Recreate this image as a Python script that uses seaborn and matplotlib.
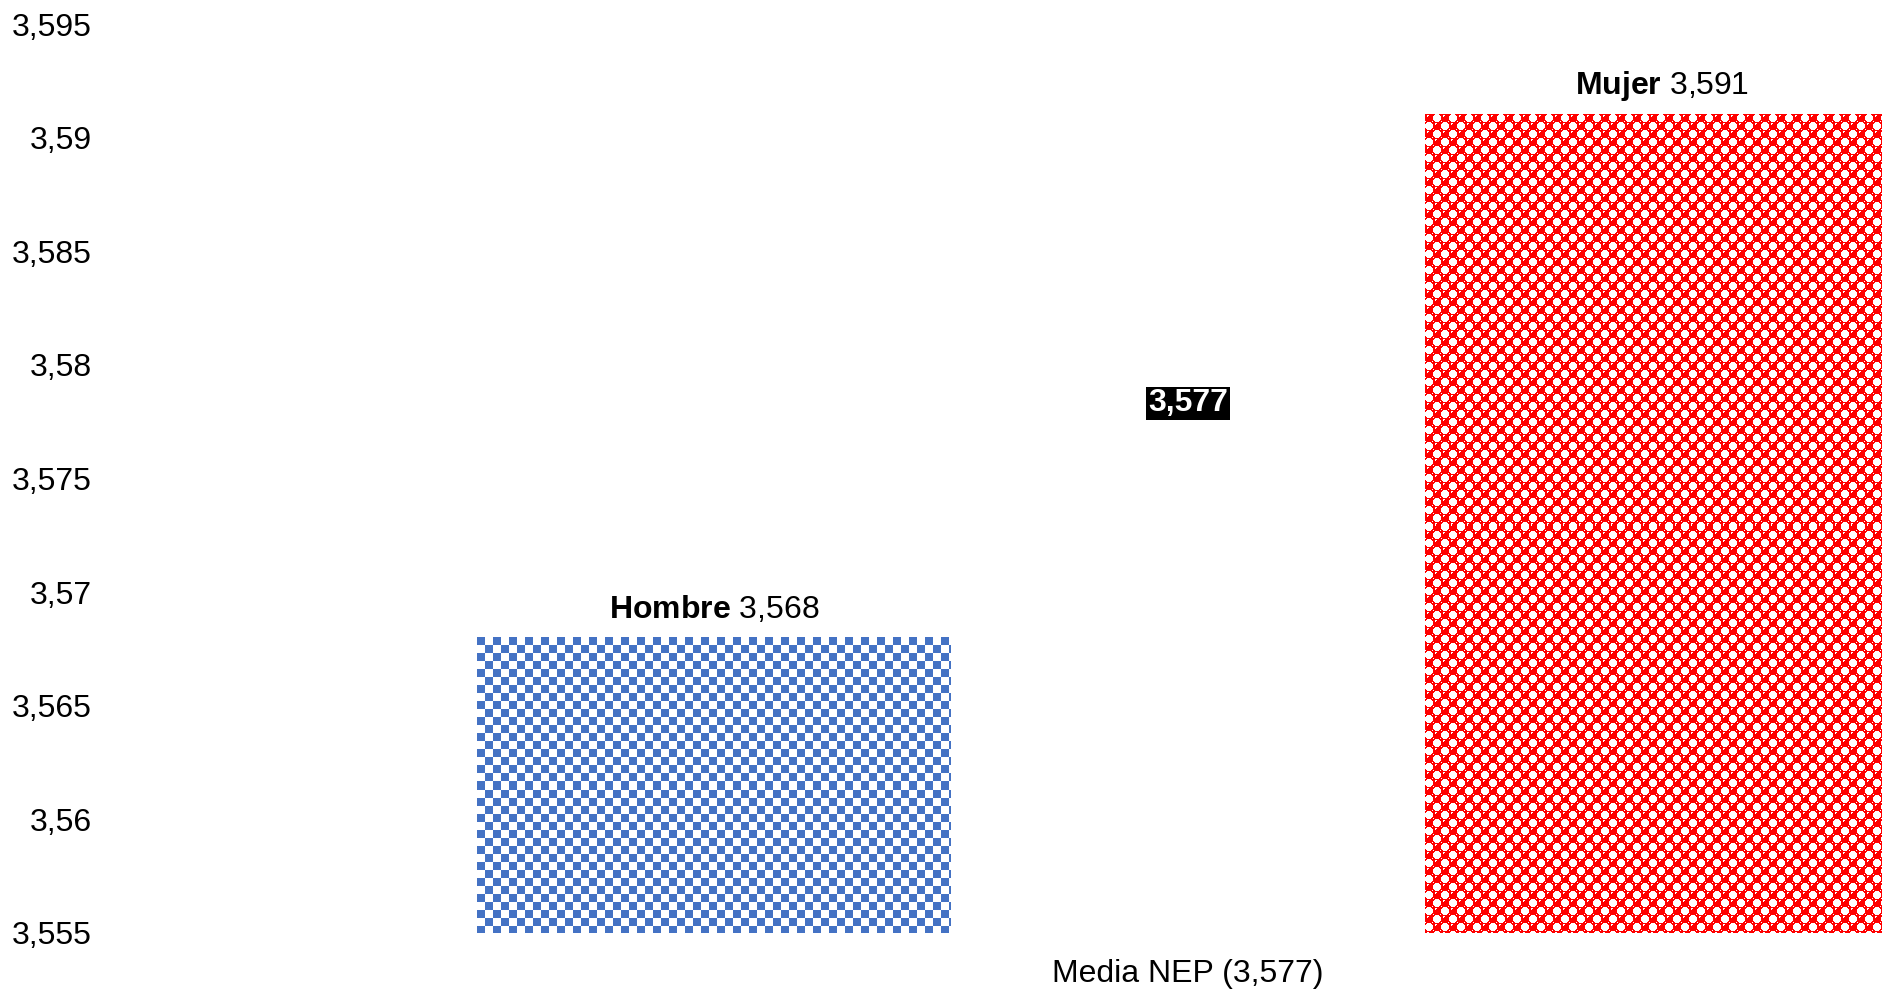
import numpy as np
import pandas as pd
import matplotlib
matplotlib.use("Agg")
import matplotlib.pyplot as plt
import seaborn as sns
from matplotlib.colors import to_rgb
from matplotlib.ticker import FuncFormatter

# datos
grupos = ["Hombre", "Media NEP (3,577)", "Mujer"]
valores = [3.568, 3.577, 3.591]
nombres = ["Hombre", "", "Mujer"]
ticks_x = ["", "Media NEP (3,577)", ""]
colores = ["#4472C4", "#FFFFFF", "#FF0000"]
y_ticks = [3.555, 3.56, 3.565, 3.57, 3.575, 3.58, 3.585, 3.59, 3.595]

sns.set_style("white")
plt.rcParams['font.family'] = ['Liberation Sans', 'DejaVu Sans']
plt.rcParams['mathtext.fontset'] = 'custom'
plt.rcParams['mathtext.rm'] = 'Liberation Sans'
plt.rcParams['mathtext.bf'] = 'Liberation Sans:bold'
plt.rcParams['text.color'] = 'black'
plt.rcParams['xtick.color'] = 'black'
plt.rcParams['ytick.color'] = 'black'
FS = 23


def coma(v, pos=None):
    s = f"{v:.3f}".rstrip('0').rstrip('.')
    return s.replace('.', ',')


# tramas tipo Excel (1 = color)
cuadros = np.kron(np.array([[1, 0], [0, 1]]), np.ones((8, 8), dtype=int))

celda_a = np.array([
    [1, 1, 1, 1, 1, 1, 1, 1],
    [1, 1, 0, 0, 1, 1, 1, 1],
    [1, 1, 0, 1, 1, 1, 1, 1],
    [1, 1, 1, 1, 1, 1, 1, 1],
    [1, 1, 1, 1, 1, 1, 1, 1],
    [1, 1, 1, 1, 1, 1, 1, 1],
    [1, 1, 1, 1, 1, 1, 1, 1],
    [0, 1, 1, 1, 1, 1, 1, 0],
])
celda_b = np.array([
    [1, 1, 0, 0, 0, 0, 1, 1],
    [1, 0, 0, 0, 0, 0, 0, 1],
    [0, 0, 0, 0, 0, 0, 0, 0],
    [0, 0, 0, 0, 0, 0, 0, 0],
    [0, 0, 0, 0, 0, 0, 0, 0],
    [0, 0, 0, 0, 0, 0, 0, 0],
    [1, 0, 0, 0, 0, 0, 0, 1],
    [1, 1, 0, 0, 0, 0, 1, 1],
])
esferas = np.block([[celda_a, celda_b], [celda_b, celda_a]])
tramas = [cuadros, None, esferas]


def rellenar(ax, patch, tile, color):
    xl, yl = ax.get_xlim(), ax.get_ylim()
    x0 = max(patch.get_x(), xl[0])
    x1 = min(patch.get_x() + patch.get_width(), xl[1])
    y0 = max(patch.get_y(), yl[0])
    y1 = min(patch.get_y() + patch.get_height(), yl[1])
    (px0, py0), (px1, py1) = ax.transData.transform([(x0, y0), (x1, y1)])
    w, h = int(round(px1 - px0)), int(round(py1 - py0))
    reps = (h // tile.shape[0] + 1, w // tile.shape[1] + 1)
    mask = np.tile(tile, reps)[:h, :w]
    rgba = np.ones((h, w, 4))
    rgba[mask == 1, :3] = to_rgb(color)
    ax.imshow(rgba, extent=(x0, x1, y0, y1), origin='upper',
              interpolation='nearest', aspect='auto', zorder=patch.zorder + 0.1)
    patch.set_facecolor('none')
    patch.set_edgecolor('none')
    ax.set_xlim(xl)
    ax.set_ylim(yl)


df = pd.DataFrame({"grupo": grupos, "valor": valores})

fig = plt.figure(figsize=(18.83, 9.91), dpi=100)
ax = fig.add_axes([100 / 1883, 58 / 991, 1 - 100 / 1883, 909 / 991])
sns.barplot(data=df, x="grupo", y="valor", hue="grupo", order=grupos,
            hue_order=grupos, palette=colores, width=1.0, legend=False,
            saturation=1, ax=ax)

ax.set_xlim(-614 / 474, 1169 / 474)
ax.set_ylim(y_ticks[0], y_ticks[-1])
ax.set_yticks(y_ticks)
ax.yaxis.set_major_formatter(FuncFormatter(coma))
ax.set_xticks(range(len(grupos)))
ax.set_xticklabels(ticks_x)
ax.tick_params(axis='y', length=0, pad=5.8, labelsize=FS)
ax.tick_params(axis='x', length=0, pad=19, labelsize=FS)
ax.set_xlabel("")
ax.set_ylabel("")
for s in ax.spines.values():
    s.set_visible(False)
ax.grid(False)

fig.canvas.draw()
for patch in list(ax.patches):
    i = int(round(patch.get_x() + patch.get_width() / 2))
    if tramas[i] is None:
        patch.set_facecolor('none')
        patch.set_edgecolor('none')
    else:
        rellenar(ax, patch, tramas[i], colores[i])

# etiquetas de datos
for i, (n, v) in enumerate(zip(nombres, valores)):
    if n:
        ax.annotate(rf"$\mathbf{{{n}}}$ {coma(v)}", (i, v), xytext=(0, 20.5),
                    textcoords='offset points', ha='center', va='center',
                    fontsize=FS, annotation_clip=False)
    else:
        ax.annotate(coma(v), (i, v), xytext=(0, 21.5), textcoords='offset points',
                    ha='center', va='center', fontsize=FS, fontweight='bold',
                    color='white',
                    bbox=dict(boxstyle='square,pad=0.05', fc='black', ec='none'))

fig.savefig("out.png", dpi=100)
